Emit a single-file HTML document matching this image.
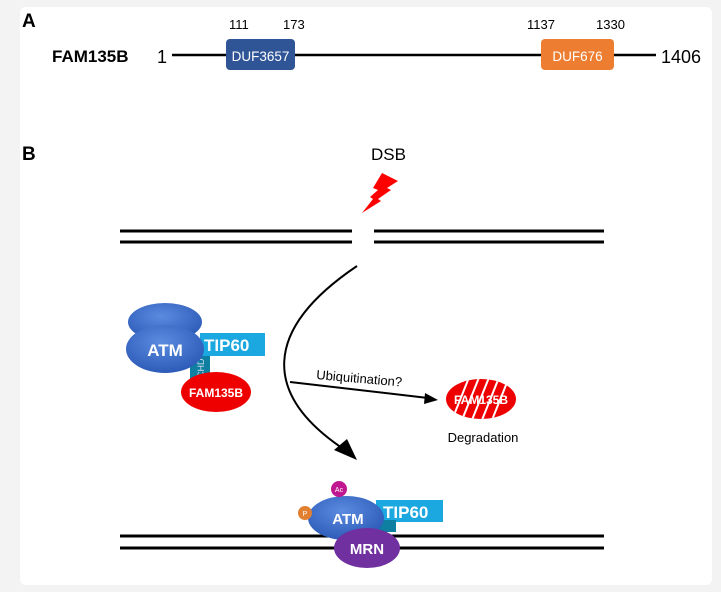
<!DOCTYPE html>
<html><head><style>
html,body{margin:0;padding:0;background:#f3f3f3;}
svg{display:block;font-family:"Liberation Sans",Arial,sans-serif;}
</style></head><body>
<svg width="721" height="592" viewBox="0 0 721 592" xmlns="http://www.w3.org/2000/svg">
<defs>
<radialGradient id="bl" cx="45%" cy="35%" r="65%"><stop offset="0" stop-color="#5b8be0"/><stop offset="1" stop-color="#2d5bb8"/></radialGradient>
<clipPath id="ec"><ellipse cx="481" cy="399" rx="35" ry="20"/></clipPath>
</defs>
<rect x="20" y="7" width="692" height="578" rx="6" fill="#fff"/>
<!-- A -->
<text x="22" y="27" font-size="19" font-weight="bold">A</text>
<text x="52" y="62" font-size="17" font-weight="bold">FAM135B</text>
<text x="157" y="63" font-size="18">1</text>
<line x1="172" y1="55" x2="656" y2="55" stroke="#000" stroke-width="2.5"/>
<rect x="226" y="39" width="69" height="31" rx="4" fill="#2f5597"/>
<text x="260.5" y="61" font-size="13.5" fill="#fff" text-anchor="middle">DUF3657</text>
<rect x="541" y="39" width="73" height="31" rx="4" fill="#ed7d31"/>
<text x="577.5" y="61" font-size="13.5" fill="#fff" text-anchor="middle">DUF676</text>
<text x="661" y="63" font-size="18">1406</text>
<text x="229" y="29" font-size="13">111</text>
<text x="283" y="29" font-size="13">173</text>
<text x="527" y="29" font-size="13">1137</text>
<text x="596" y="29" font-size="13">1330</text>
<!-- B -->
<text x="22" y="160" font-size="19" font-weight="bold">B</text>
<text x="371" y="160" font-size="17">DSB</text>
<polygon points="382,173 398,181 387,188 391,190 378,199 381,201 362,213 373,199 370,197 378,190 373,188" fill="#f00"/>
<g stroke="#000" stroke-width="3">
<line x1="120" y1="231" x2="352" y2="231"/><line x1="120" y1="242" x2="352" y2="242"/>
<line x1="374" y1="231" x2="604" y2="231"/><line x1="374" y1="242" x2="604" y2="242"/>
<line x1="120" y1="536" x2="604" y2="536"/><line x1="120" y1="548" x2="604" y2="548"/>
</g>
<path d="M357,266 C262,330 262,395 345,450" fill="none" stroke="#000" stroke-width="2"/>
<polygon points="357,460 334,450 347,439" fill="#000"/>
<line x1="290" y1="382" x2="428" y2="398" stroke="#000" stroke-width="2"/>
<polygon points="438,400 425,393 424,404" fill="#000"/>
<text x="316" y="379" font-size="13" transform="rotate(5 316 379)">Ubiquitination?</text>
<ellipse cx="481" cy="399" rx="35" ry="20" fill="#e00"/>
<text x="481" y="404" font-size="12" font-weight="bold" fill="#fff" text-anchor="middle">FAM135B</text>
<g clip-path="url(#ec)" stroke="#fff" stroke-width="2">
<line x1="460" y1="425" x2="480" y2="375"/><line x1="470" y1="425" x2="490" y2="375"/><line x1="480" y1="425" x2="500" y2="375"/><line x1="490" y1="425" x2="510" y2="375"/><line x1="450" y1="425" x2="470" y2="375"/>
</g>
<text x="483" y="442" font-size="13" text-anchor="middle">Degradation</text>
<!-- left complex -->
<ellipse cx="165" cy="322" rx="37" ry="19" fill="url(#bl)"/>
<rect x="190" y="350" width="20" height="34" fill="#0e7fa0"/>
<text x="204" y="378" font-size="9" fill="#cde" transform="rotate(-90 204 378)">CHD</text>
<rect x="200" y="333" width="65" height="23" fill="#1ba7e0"/>
<text x="204" y="351" font-size="17" font-weight="bold" fill="#fff">TIP60</text>
<ellipse cx="165" cy="349" rx="39" ry="24" fill="url(#bl)"/>
<text x="165" y="356" font-size="17" font-weight="bold" fill="#fff" text-anchor="middle">ATM</text>
<ellipse cx="216" cy="392" rx="35" ry="20" fill="#e00"/>
<text x="216" y="397" font-size="12" font-weight="bold" fill="#fff" text-anchor="middle">FAM135B</text>
<!-- bottom complex -->
<rect x="376" y="500" width="67" height="22" fill="#1ba7e0"/>
<rect x="376" y="520" width="20" height="12" fill="#0e7fa0"/>
<text x="383" y="518" font-size="17" font-weight="bold" fill="#fff">TIP60</text>
<ellipse cx="346" cy="518" rx="38" ry="22" fill="url(#bl)"/>
<text x="348" y="524" font-size="15" font-weight="bold" fill="#fff" text-anchor="middle">ATM</text>
<circle cx="339" cy="489" r="8" fill="#c0168f"/>
<text x="339" y="492" font-size="7" fill="#fff" text-anchor="middle">Ac</text>
<circle cx="305" cy="513" r="7" fill="#e08030"/>
<text x="305" y="516" font-size="7" fill="#fff" text-anchor="middle">P</text>
<ellipse cx="367" cy="548" rx="33" ry="20" fill="#7030a0"/>
<text x="367" y="554" font-size="15" font-weight="bold" fill="#fff" text-anchor="middle">MRN</text>
</svg>
</body></html>
